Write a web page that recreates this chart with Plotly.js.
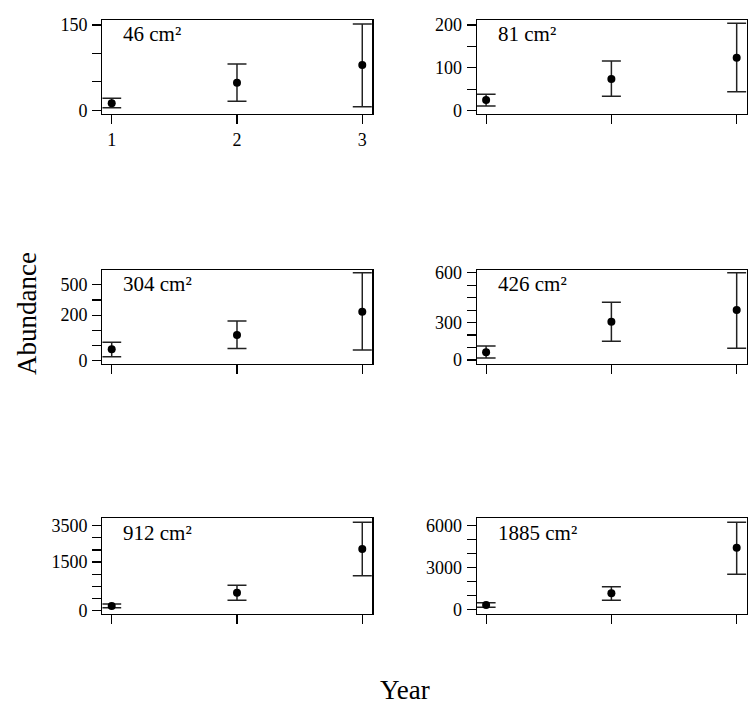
<!DOCTYPE html>
<html>
<head>
<meta charset="utf-8">
<script src="https://cdn.plot.ly/plotly-3.0.1.min.js"></script>
<style>
  html, body { margin: 0; padding: 0; background: #fff; }
  #chart { width: 748px; height: 715px; }
</style>
</head>
<body>
<div id="chart"></div>
<script>
// ---- data ----
const years = [1, 2, 3];
const yearLabels = ['1', '2', '3'];
const areaLabels = ['46 cm²', '81 cm²', '304 cm²', '426 cm²', '912 cm²', '1885 cm²'];

const mean46 = [12.3, 48.5, 79.7];
const low46 = [4.6, 15.8, 6.4];
const high46 = [21.1, 81.4, 151.7];

const mean81 = [25, 74, 123.7];
const low81 = [11, 33.6, 44.3];
const high81 = [38.3, 116, 204];

const mean304 = [50, 113, 215];
const low304 = [17.5, 54, 47];
const high304 = [81, 174, 386];

const mean426 = [62, 307, 401];
const low426 = [16, 150, 94];
const high426 = [112, 463, 700];

const mean912 = [139, 552, 1906];
const low912 = [87, 316, 1078];
const high912 = [201, 781, 2733];

const mean1885 = [307, 1143, 4400];
const low1885 = [143, 643, 2500];
const high1885 = [471, 1614, 6214];

// labelled y ticks (position, printed label) and unlabelled tick positions, per panel
const ticks46 = [0, 150];
const tickText46 = ['0', '150'];
const minor46 = [50, 100];
const ticks81 = [0, 100, 200];
const tickText81 = ['0', '100', '200'];
const minor81 = [50, 150];
const ticks304 = [0, 200, 333.33];
const tickText304 = ['0', '200', '500'];
const minor304 = [66.67, 133.33, 266.67];
const ticks426 = [0, 300, 700];
const tickText426 = ['0', '300', '600'];
const minor426 = [100, 200, 400, 500, 600];
const ticks912 = [0, 1500, 2625];
const tickText912 = ['0', '1500', '3500'];
const minor912 = [375, 750, 1125, 1875, 2250];
const ticks1885 = [0, 3000, 6000];
const tickText1885 = ['0', '3000', '6000'];
const minor1885 = [1000, 2000, 4000, 5000];

const yRanges = [[-5.6, 158.8], [-6.5, 211.7], [-12.3, 398], [-28, 722], [-93, 2857], [-300, 6500]];

// ---- build ----
const panels = [
  {mean: mean46, low: low46, high: high46, tv: ticks46, tt: tickText46, mv: minor46},
  {mean: mean81, low: low81, high: high81, tv: ticks81, tt: tickText81, mv: minor81},
  {mean: mean304, low: low304, high: high304, tv: ticks304, tt: tickText304, mv: minor304},
  {mean: mean426, low: low426, high: high426, tv: ticks426, tt: tickText426, mv: minor426},
  {mean: mean912, low: low912, high: high912, tv: ticks912, tt: tickText912, mv: minor912},
  {mean: mean1885, low: low1885, high: high1885, tv: ticks1885, tt: tickText1885, mv: minor1885}
];

const W = 748, H = 715;
const colDom = [[102.3 / W, 372.3 / W], [476.7 / W, 746.7 / W]];
const rowPx = [[20, 113.5], [270, 363.5], [518.3, 613.5]];
const rowDom = rowPx.map(r => [1 - r[1] / H, 1 - r[0] / H]);

const FONT = '"Liberation Serif", "Times New Roman", serif';
const traces = [];
const layout = {
  width: W, height: H,
  margin: {l: 0, r: 0, t: 0, b: 0},
  paper_bgcolor: '#fff', plot_bgcolor: '#fff',
  showlegend: false,
  font: {family: FONT, size: 17, color: '#000'},
  annotations: []
};

panels.forEach((p, i) => {
  const n = i + 1;
  const suf = n === 1 ? '' : String(n);
  const col = i % 2, row = Math.floor(i / 2);
  traces.push({
    type: 'scatter', mode: 'markers',
    x: years, y: p.mean,
    xaxis: 'x' + suf, yaxis: 'y' + suf,
    marker: {color: '#000', size: 8},
    error_y: {
      type: 'data', symmetric: false,
      array: p.high.map((h, k) => h - p.mean[k]),
      arrayminus: p.mean.map((m, k) => m - p.low[k]),
      color: '#222', thickness: 1.5, width: 9.5
    },
    hoverinfo: 'skip'
  });
  layout['xaxis' + suf] = {
    domain: colDom[col], anchor: 'y' + suf,
    range: [0.925, 3.08],
    tickmode: 'array', tickvals: years, ticktext: yearLabels,
    showticklabels: n === 1,
    ticks: 'outside', ticklen: 9, tickwidth: 1.2, tickcolor: '#000',
    ticklabelstandoff: 1,
    showline: true, mirror: true, linecolor: '#000', linewidth: 1.2,
    showgrid: false, zeroline: false,
    tickfont: {family: FONT, size: 18, color: '#000'}
  };
  layout['yaxis' + suf] = {
    domain: rowDom[row], anchor: 'x' + suf,
    range: yRanges[i],
    tickmode: 'array', tickvals: p.tv, ticktext: p.tt,
    ticks: 'outside', ticklen: 9, tickwidth: 1.2, tickcolor: '#000',
    minor: {tickmode: 'array', tickvals: p.mv, ticks: 'outside', ticklen: 9, tickwidth: 1.2, tickcolor: '#000', showgrid: false},
    ticklabelstandoff: 1,
    showline: true, mirror: true, linecolor: '#000', linewidth: 1.2,
    showgrid: false, zeroline: false,
    tickfont: {family: FONT, size: 18, color: '#000'}
  };
  layout.annotations.push({
    xref: 'x' + suf + ' domain', yref: 'y' + suf + ' domain',
    x: 0.071, y: 0.85, xanchor: 'left', yanchor: 'middle',
    text: areaLabels[i], showarrow: false,
    font: {family: FONT, size: 21, color: '#000'}
  });
});

layout.annotations.push({
  xref: 'paper', yref: 'paper', x: 27 / W, y: 1 - 314 / H,
  xanchor: 'center', yanchor: 'middle', textangle: -90,
  text: 'Abundance', showarrow: false,
  font: {family: FONT, size: 27, color: '#000'}
});
layout.annotations.push({
  xref: 'paper', yref: 'paper', x: 405 / W, y: 1 - 690 / H,
  xanchor: 'center', yanchor: 'middle',
  text: 'Year', showarrow: false,
  font: {family: FONT, size: 27, color: '#000'}
});

Plotly.newPlot('chart', traces, layout, {staticPlot: true, displayModeBar: false});
</script>
</body>
</html>
